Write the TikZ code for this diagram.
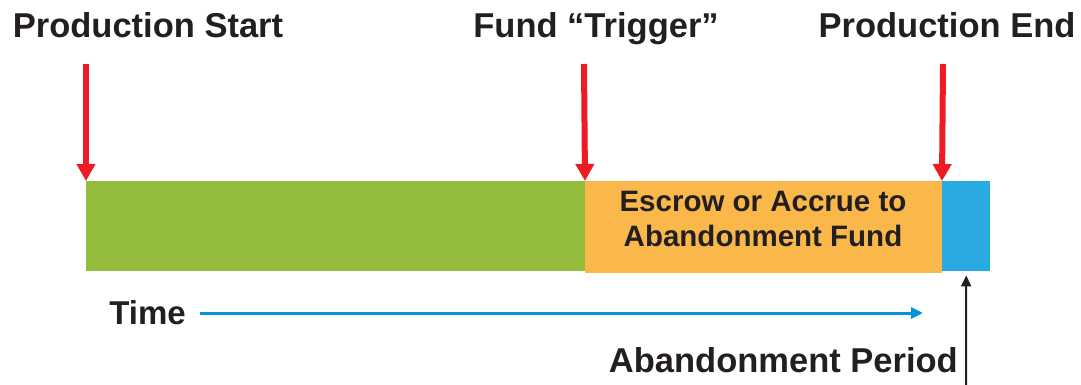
\documentclass[tikz,border=0pt]{standalone}
\usepackage{fontspec}
\setmainfont{Liberation Sans}
\usetikzlibrary{arrows.meta}

\definecolor{prodgreen}{RGB}{149,189,61}
\definecolor{fundorange}{RGB}{250,184,75}
\definecolor{abandblue}{RGB}{41,171,226}
\definecolor{markred}{RGB}{237,28,36}
\definecolor{timeblue}{RGB}{0,150,214}
\definecolor{inkblack}{RGB}{35,31,32}

\begin{document}
\begin{tikzpicture}[
    x=1pt, y=-1pt,
    every node/.style={inner sep=2pt, text=inkblack, font=\bfseries},
    title/.style={font=\fontsize{34.5}{40}\selectfont\bfseries, anchor=base},
    bar/.style={anchor=north west, inner sep=0pt, minimum height=90pt},
    marker/.style={draw=markred, line width=6pt, -{Triangle[width=18pt,length=17pt]}},
    timeline/.style={draw=timeblue, line width=3pt, -{Triangle[width=11pt,length=12pt]}},
    pointer/.style={draw=inkblack, line width=2pt, -{Triangle[width=10pt,length=11pt]}},
]
\useasboundingbox (0,0) rectangle (1081,385);

% ---- column x-coordinates ----
\def\xS{86}       % production start
\def\xF{585}      % fund trigger
\def\xE{942}      % production end
\def\xA{990}      % end of abandonment

% ---- row y-coordinates ----
\def\yT{38}       % title baselines
\def\yM{64}       % top of red markers
\def\yB{181}      % top of bars

% ---- bars ----
\node[bar, fill=prodgreen,  minimum width=\xF-\xS pt] (prod)  at (\xS,\yB) {};
\node[bar, fill=fundorange, minimum width=\xE-\xF pt, minimum height=92pt] (fund) at (\xF,\yB) {};
\node[bar, fill=abandblue,  minimum width=\xA-\xE pt] (aband) at (\xE,\yB) {};

\node[align=center, font=\fontsize{29.5}{35}\selectfont\bfseries] (fundtxt) at (763,219)
    {Escrow or Accrue to\\Abandonment Fund};

% ---- titles ----
\node[title] (tstart) at (148,\yT) {Production Start};
\node[title] (ttrig)  at (596,\yT) {Fund “Trigger”};
\node[title] (tend)   at (947,\yT) {Production End};

% ---- red markers ----
\coordinate (mS) at (\xS,\yM);
\coordinate (mF) at (\xF-1,\yM);
\coordinate (mE) at (\xE+1,\yM);
\draw[marker] (mS) -- (prod.north west);
\draw[marker] (mF) -- (fund.north west);
\draw[marker] (mE) -- (aband.north west);

% ---- time axis ----
\node[anchor=east, font=\fontsize{33}{38}\selectfont\bfseries] (time) at (188,313) {Time};
\coordinate (tstop) at (923,313);
\draw[timeline] ([xshift=12pt]time.east) -- (tstop);

% ---- abandonment period ----
\node[title, anchor=base east] (aper) at (960,372) {Abandonment Period};
\coordinate (pfoot) at (966,385);
\draw[pointer, shorten >=4pt] (pfoot) -- (aband.south);

\end{tikzpicture}
\end{document}
